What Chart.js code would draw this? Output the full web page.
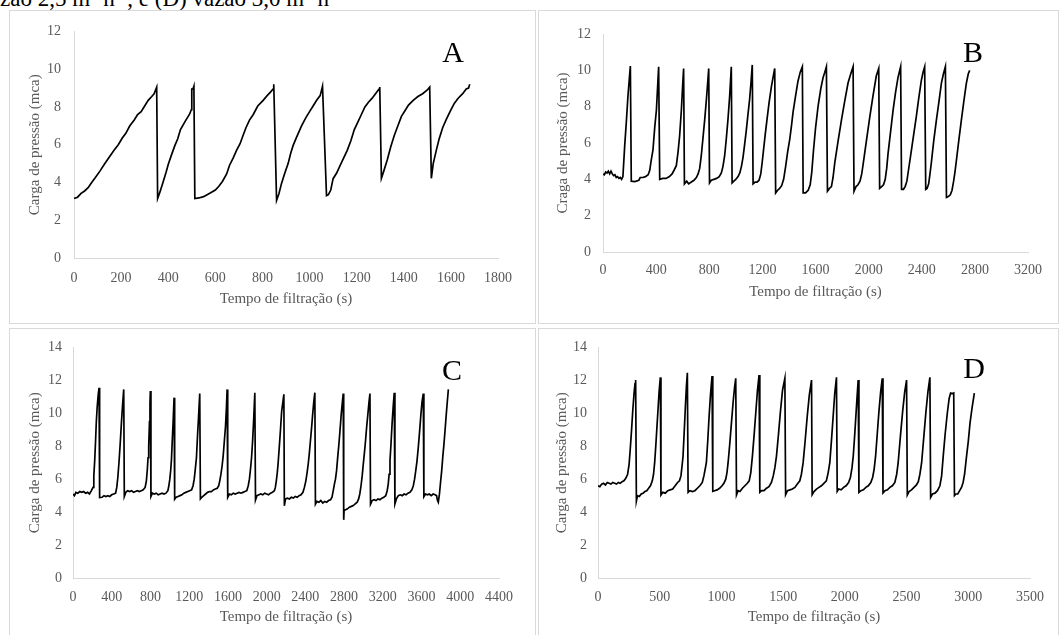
<!DOCTYPE html>
<html>
<head>
<meta charset="utf-8">
<script src="https://cdn.jsdelivr.net/npm/chart.js@4.4.1/dist/chart.umd.min.js"></script>
<style>
  body { margin: 0; background: #fff; overflow: hidden; width: 1059px; height: 635px; position: relative; }
  .panel { position: absolute; box-sizing: border-box; border: 1px solid #d9d9d9; }
  canvas { position: absolute; }
  .letter { position: absolute; font-family: "Liberation Serif", "Times New Roman", serif; font-size: 30px; color: #000; line-height: 30px; transform: translate(-50%, -50%); }
  #caption { position: absolute; left: 0; top: -13px; font-family: "Liberation Serif", "Times New Roman", serif; font-size: 23px; line-height: 23px; color: #000; white-space: nowrap; }
  #caption sup { font-size: 15px; line-height: 0; vertical-align: 8px; }
</style>
</head>
<body>
<div id="caption">zão 2,5 m<sup>3</sup> h<sup>-1</sup>, e (D) vazão 3,0 m<sup>3</sup> h<sup>-1</sup></div>

<div class="panel" style="left:9px;top:10px;width:527px;height:314px"></div>
<div class="panel" style="left:538px;top:10px;width:521px;height:314px"></div>
<div class="panel" style="left:9px;top:328px;width:527px;height:312px"></div>
<div class="panel" style="left:538px;top:328px;width:521px;height:312px"></div>

<canvas id="chartA" width="526" height="313" style="left:9px;top:10px"></canvas>
<canvas id="chartB" width="520" height="313" style="left:538px;top:10px"></canvas>
<canvas id="chartC" width="526" height="307" style="left:9px;top:328px"></canvas>
<canvas id="chartD" width="520" height="307" style="left:538px;top:328px"></canvas>

<div class="letter" style="left:453px;top:52px">A</div>
<div class="letter" style="left:973px;top:52px">B</div>
<div class="letter" style="left:452px;top:370px">C</div>
<div class="letter" style="left:974px;top:368px">D</div>

<script>
// Panel A - filtration time (s) and pressure head (mca)
const timeA = [0, 15, 30, 45, 60, 75, 90, 110, 131, 150, 170, 188, 205, 220, 237, 255, 270, 285, 300, 315, 330, 340, 351,
  355, 365, 379, 390, 400, 415, 428, 440, 452, 461, 475, 490, 498, 500, 505, 509,
  513, 530, 550, 565, 580, 600, 615, 630, 648, 660, 676, 690, 705, 718, 730, 745, 761, 780, 803, 820, 835, 845, 848,
  860, 870, 881, 895, 909, 920, 930, 945, 966, 985, 1000, 1015, 1030, 1045, 1055,
  1072, 1080, 1090, 1100, 1115, 1130, 1145, 1160, 1175, 1190, 1205, 1220, 1235, 1250, 1265, 1280, 1295, 1298,
  1305, 1315, 1330, 1345, 1360, 1375, 1390, 1405, 1420, 1440, 1460, 1480, 1500, 1510,
  1517, 1525, 1538, 1550, 1565, 1581, 1600, 1615, 1630, 1650, 1665, 1675, 1680];
const pressureA = [3.15, 3.22, 3.42, 3.55, 3.72, 4.0, 4.25, 4.6, 5.0, 5.35, 5.7, 6.0, 6.35, 6.6, 7.0, 7.3, 7.6, 7.75, 8.05, 8.35, 8.55, 8.7, 9.05,
  3.15, 3.5, 4.05, 4.5, 4.95, 5.5, 5.95, 6.3, 6.8, 7.0, 7.3, 7.6, 7.85, 8.95, 8.95, 9.1,
  3.15, 3.18, 3.25, 3.35, 3.45, 3.6, 3.8, 4.05, 4.45, 4.9, 5.3, 5.7, 6.05, 6.5, 6.9, 7.3, 7.6, 8.05, 8.35, 8.6, 8.8, 8.95, 9.2,
  3.05, 3.4, 3.95, 4.5, 5.0, 5.55, 5.95, 6.4, 7.0, 7.45, 7.75, 8.05, 8.35, 8.6, 9.1,
  3.3, 3.35, 3.6, 4.2, 4.5, 4.9, 5.3, 5.7, 6.2, 6.8, 7.2, 7.6, 8.0, 8.25, 8.45, 8.7, 8.95, 9.05,
  4.22, 4.6, 5.2, 5.9, 6.5, 7.0, 7.5, 7.8, 8.1, 8.35, 8.55, 8.7, 8.9, 9.05,
  4.22, 5.0, 5.7, 6.3, 6.9, 7.35, 7.85, 8.2, 8.45, 8.7, 8.95, 9.0, 9.2];
const xTicksA = [0, 200, 400, 600, 800, 1000, 1200, 1400, 1600, 1800];
const yTicksA = [0, 2, 4, 6, 8, 10, 12];

// Panel B
const timeB = [0, 10, 20, 30, 40, 50, 60, 70, 80, 90, 100, 110, 120, 130, 140, 150, 163, 176, 188, 201, 206,
  213, 240, 270, 280, 300, 320, 340, 352, 362, 376, 390, 402, 412, 419,
  427, 450, 475, 500, 520, 535, 552, 565, 577, 590, 600, 607,
  613, 630, 645, 665, 685, 703, 716, 728, 740, 753, 766, 778, 788, 796,
  802, 815, 835, 855, 875, 891, 903, 916, 928, 941, 953, 960, 966,
  972, 985, 1000, 1017, 1030, 1042, 1054, 1066, 1079, 1092, 1104, 1115, 1124,
  1130, 1145, 1160, 1175, 1188, 1198, 1210, 1222, 1235, 1250, 1268, 1280, 1293,
  1300, 1315, 1330, 1345, 1360, 1375, 1390, 1406, 1420, 1431, 1450, 1468, 1485, 1501,
  1507, 1525, 1545, 1560, 1572, 1585, 1600, 1619, 1640, 1657, 1670, 1682,
  1690, 1705, 1720, 1732, 1745, 1770, 1795, 1820, 1845, 1865, 1883,
  1890, 1905, 1920, 1935, 1948, 1958, 1983, 2008, 2033, 2058, 2076,
  2083, 2098, 2112, 2125, 2136, 2146, 2165, 2184, 2203, 2221, 2241,
  2248, 2262, 2275, 2288, 2300, 2322, 2340, 2359, 2378, 2397, 2410, 2422,
  2430, 2440, 2452, 2462, 2472, 2490, 2510, 2530, 2548, 2563, 2578,
  2586, 2600, 2615, 2628, 2640, 2650, 2661, 2680, 2698, 2717, 2736, 2750, 2761];
const pressureB = [4.3, 4.25, 4.4, 4.35, 4.45, 4.3, 4.45, 4.3, 4.2, 4.25, 4.1, 4.15, 4.05, 4.1, 4.0, 4.15, 5.8, 7.2, 8.6, 9.8, 10.24,
  3.9, 3.88, 3.95, 4.1, 4.1, 4.15, 4.25, 4.5, 5.0, 5.6, 6.9, 7.8, 9.2, 10.2,
  4.0, 4.05, 4.05, 4.15, 4.3, 4.5, 4.75, 5.5, 6.4, 7.8, 9.2, 10.1,
  3.75, 3.9, 3.75, 3.85, 3.95, 4.1, 4.3, 4.6, 5.3, 6.3, 7.3, 8.35, 9.3, 10.1,
  3.8, 3.95, 4.0, 4.05, 4.15, 4.35, 4.7, 5.3, 6.2, 7.3, 8.5, 9.4, 10.2,
  3.8, 3.9, 4.0, 4.15, 4.35, 4.7, 5.2, 5.9, 6.7, 7.6, 8.4, 9.4, 10.3,
  3.75, 3.85, 3.85, 3.95, 4.3, 4.9, 5.7, 6.5, 7.3, 8.2, 9.1, 9.6, 10.1,
  3.25, 3.4, 3.5, 3.65, 4.0, 4.7, 5.5, 6.2, 7.0, 7.7, 8.6, 9.4, 9.9, 10.2,
  3.25, 3.25, 3.4, 3.7, 4.4, 5.6, 6.8, 8.0, 9.0, 9.6, 9.9, 10.2,
  3.35, 3.5, 3.6, 4.1, 4.9, 6.1, 7.25, 8.3, 9.3, 9.8, 10.2,
  3.35, 3.6, 3.7, 3.9, 4.3, 4.8, 6.1, 7.4, 8.6, 9.7, 10.1,
  3.5, 3.6, 3.7, 4.0, 4.6, 5.4, 6.6, 7.8, 8.8, 9.6, 10.2,
  3.45, 3.45, 3.6, 3.9, 4.5, 5.6, 6.5, 7.45, 8.5, 9.45, 9.9, 10.2,
  3.45, 3.5, 3.75, 4.3, 4.9, 6.1, 7.25, 8.3, 9.3, 9.8, 10.2,
  3.0, 3.05, 3.15, 3.4, 3.9, 4.4, 5.05, 6.2, 7.25, 8.3, 9.3, 9.8, 10.0];
const xTicksB = [0, 400, 800, 1200, 1600, 2000, 2400, 2800, 3200];
const yTicksB = [0, 2, 4, 6, 8, 10, 12];

// Panel C
const timeC = [0, 15, 30, 50, 70, 90, 110, 130, 150, 170, 190, 207, 215, 224, 233, 241, 250, 260, 269,
  275, 300, 320, 340, 360, 380, 400, 420, 440, 452, 463, 476, 488, 500, 512, 524,
  530, 545, 565, 585, 605, 625, 645, 665, 685, 705, 725, 745, 758, 768, 775, 782, 790, 795, 799,
  805, 820, 840, 860, 880, 900, 920, 940, 960, 980, 990, 1000, 1010, 1017, 1025, 1035, 1044,
  1050, 1065, 1085, 1105, 1125, 1145, 1165, 1185, 1205, 1225, 1240, 1252, 1263, 1275, 1285, 1297, 1309,
  1316, 1330, 1350, 1370, 1390, 1410, 1430, 1450, 1470, 1490, 1505, 1516, 1528, 1540, 1551, 1563, 1575, 1585, 1592,
  1598, 1615, 1635, 1655, 1675, 1695, 1715, 1735, 1755, 1775, 1795, 1810, 1822, 1833, 1844, 1855, 1866, 1878,
  1885, 1900, 1920, 1940, 1960, 1980, 2000, 2020, 2040, 2060, 2080, 2090, 2100, 2110, 2119, 2130, 2143, 2155, 2168, 2178,
  2183, 2195, 2215, 2235, 2255, 2275, 2295, 2315, 2335, 2355, 2375, 2390, 2405, 2418, 2429, 2440, 2452, 2464, 2475, 2487, 2498,
  2504, 2520, 2540, 2560, 2580, 2600, 2620, 2640, 2660, 2675, 2688, 2700, 2711, 2722, 2735, 2746, 2757, 2770, 2781, 2791,
  2796, 2800, 2815, 2835, 2855, 2875, 2895, 2915, 2935, 2950, 2962, 2975, 2987, 2998, 3010, 3021, 3032, 3045, 3056, 3067,
  3073, 3090, 3110, 3130, 3150, 3170, 3190, 3210, 3230, 3245, 3256, 3265, 3274, 3285, 3296, 3307, 3318,
  3325, 3340, 3360, 3380, 3400, 3420, 3440, 3460, 3480, 3500, 3515, 3528, 3540, 3553, 3566, 3580, 3593, 3605, 3618,
  3624, 3640, 3660, 3680, 3700, 3720, 3740, 3755, 3765, 3773, 3785, 3796, 3808, 3820, 3831, 3842, 3855, 3866, 3877];
const pressureC = [5.1, 5.0, 5.2, 5.15, 5.25, 5.2, 5.25, 5.15, 5.2, 5.1, 5.3, 5.5, 6.2, 7.1, 8.3, 9.5, 10.4, 11.1, 11.55,
  4.88, 4.9, 5.0, 4.95, 5.0, 4.95, 5.05, 5.1, 5.15, 5.5, 6.1, 7.1, 8.2, 9.4, 10.5, 11.45,
  4.95, 5.2, 5.3, 5.25, 5.3, 5.2, 5.25, 5.3, 5.25, 5.3, 5.35, 5.5, 5.9, 6.6, 7.3, 8.0, 9.5, 10.6, 11.35,
  4.95, 5.15, 5.1, 5.15, 5.05, 5.1, 5.15, 5.1, 5.15, 5.3, 5.6, 6.0, 6.6, 7.2, 8.3, 9.6, 10.95,
  4.78, 4.9, 4.95, 5.0, 5.05, 5.15, 5.2, 5.25, 5.3, 5.35, 5.6, 6.0, 6.6, 7.3, 8.5, 9.8, 11.2,
  4.8, 4.9, 5.0, 5.1, 5.2, 5.25, 5.25, 5.35, 5.4, 5.45, 5.6, 5.9, 6.3, 6.8, 7.4, 8.3, 9.2, 10.4, 11.45,
  4.9, 5.1, 5.05, 5.15, 5.1, 5.15, 5.2, 5.15, 5.2, 5.25, 5.3, 5.6, 6.0, 6.6, 7.3, 8.3, 9.6, 11.25,
  4.74, 5.0, 5.05, 5.1, 5.05, 5.15, 5.1, 5.05, 5.15, 5.2, 5.3, 5.5, 5.9, 6.4, 7.0, 7.9, 9.0, 10.1, 10.7, 11.15,
  4.38, 4.8, 4.85, 4.8, 4.9, 4.85, 4.95, 4.9, 5.0, 5.05, 5.2, 5.5, 5.9, 6.4, 6.9, 7.5, 8.3, 9.1, 9.9, 10.7, 11.25,
  4.48, 4.65, 4.6, 4.7, 4.55, 4.65, 4.6, 4.7, 4.75, 4.9, 5.3, 5.7, 6.0, 6.5, 7.4, 8.1, 8.9, 9.9, 10.6, 11.2,
  3.53, 4.1, 4.15, 4.2, 4.3, 4.35, 4.4, 4.5, 4.6, 4.8, 5.1, 5.6, 6.2, 6.9, 7.6, 8.3, 9.1, 9.9, 10.6, 11.2,
  4.48, 4.7, 4.75, 4.7, 4.8, 4.75, 4.85, 4.9, 5.0, 5.3, 5.7, 6.3, 7.1, 8.2, 9.4, 10.4, 11.25,
  4.5, 4.8, 5.0, 5.05, 5.0, 5.1, 5.05, 5.15, 5.2, 5.35, 5.6, 6.0, 6.5, 7.1, 7.9, 8.9, 9.9, 10.7, 11.2,
  4.94, 5.1, 5.05, 5.1, 5.0, 5.1, 5.05, 5.0, 4.7, 4.6, 5.1, 5.8, 6.5, 7.4, 8.1, 8.9, 9.9, 10.7, 11.45];
const xTicksC = [0, 400, 800, 1200, 1600, 2000, 2400, 2800, 3200, 3600, 4000, 4400];
const yTicksC = [0, 2, 4, 6, 8, 10, 12, 14];

// Panel D
const timeD = [0, 15, 30, 45, 60, 75, 90, 105, 120, 135, 150, 165, 180, 195, 210, 225, 240, 252, 262, 272, 282, 292, 300, 305,
  311, 320, 335, 350, 365, 380, 395, 410, 425, 440, 450, 459, 468, 477, 486, 495, 505,
  510, 525, 545, 565, 585, 605, 625, 645, 660, 672, 681, 689, 698, 708, 716, 724,
  730, 745, 765, 785, 805, 825, 845, 858, 868, 878, 889, 900, 912, 924,
  930, 945, 965, 985, 1005, 1020, 1035, 1045, 1054, 1067, 1081, 1095, 1107, 1116,
  1122, 1135, 1150, 1170, 1190, 1210, 1225, 1238, 1251, 1264, 1278, 1292, 1305,
  1311, 1325, 1345, 1365, 1385, 1405, 1420, 1433, 1446, 1462, 1478, 1495, 1514,
  1520, 1535, 1555, 1575, 1595, 1615, 1635, 1648, 1662, 1678, 1695, 1712, 1730,
  1735, 1750, 1770, 1790, 1810, 1830, 1850, 1865, 1878, 1892, 1905, 1918, 1932,
  1938, 1950, 1970, 1990, 2010, 2030, 2045, 2058, 2068, 2079, 2089, 2099, 2108,
  2114, 2130, 2150, 2170, 2190, 2210, 2225, 2237, 2249, 2262, 2276, 2290, 2303,
  2309, 2325, 2345, 2365, 2385, 2405, 2420, 2432, 2450, 2468, 2485, 2500,
  2506, 2520, 2540, 2560, 2580, 2595, 2608, 2622, 2640, 2657, 2673, 2689,
  2695, 2710, 2730, 2750, 2770, 2784, 2797, 2812, 2830, 2845, 2857, 2870, 2882,
  2888, 2900, 2915, 2930, 2945, 2958, 2970, 2986, 3000, 3014, 3030, 3049];
const pressureD = [5.6, 5.55, 5.7, 5.75, 5.65, 5.8, 5.75, 5.7, 5.8, 5.75, 5.7, 5.8, 5.75, 5.85, 5.9, 6.05, 6.3, 6.9, 7.9, 9.0, 10.2, 11.2, 11.8, 12.02,
  4.67, 5.0, 4.95, 5.1, 5.15, 5.25, 5.3, 5.45, 5.6, 5.9, 6.3, 7.0, 8.0, 9.1, 10.2, 11.3, 12.18,
  5.04, 5.2, 5.15, 5.3, 5.35, 5.4, 5.6, 5.8, 5.9, 6.2, 6.8, 7.4, 8.8, 10.4, 11.6, 12.46,
  5.2, 5.3, 5.25, 5.3, 5.45, 5.6, 5.8, 6.2, 6.6, 7.0, 8.3, 9.8, 11.2, 12.26,
  5.26, 5.3, 5.35, 5.45, 5.6, 5.75, 6.0, 6.4, 7.0, 8.1, 9.4, 10.7, 11.6, 12.12,
  5.04, 5.3, 5.25, 5.45, 5.6, 5.75, 5.9, 6.4, 7.4, 8.6, 10.0, 11.4, 12.32,
  5.2, 5.3, 5.3, 5.45, 5.55, 5.8, 6.2, 6.7, 7.4, 8.7, 10.1, 11.4, 12.12,
  5.06, 5.3, 5.35, 5.4, 5.5, 5.7, 5.9, 6.3, 7.0, 8.3, 9.8, 11.1, 12.02,
  5.06, 5.25, 5.4, 5.5, 5.6, 5.75, 5.9, 6.4, 7.0, 8.4, 9.8, 11.2, 12.18,
  5.26, 5.4, 5.35, 5.5, 5.6, 5.8, 6.1, 6.7, 7.4, 8.6, 9.8, 11.0, 12.02,
  5.2, 5.3, 5.35, 5.5, 5.6, 5.8, 6.1, 6.6, 7.4, 8.7, 10.1, 11.3, 12.12,
  5.16, 5.3, 5.35, 5.5, 5.6, 5.8, 6.3, 7.0, 8.6, 10.1, 11.3, 12.02,
  5.04, 5.25, 5.35, 5.5, 5.65, 5.85, 6.3, 7.0, 8.6, 10.1, 11.3, 12.18,
  4.9, 5.1, 5.15, 5.3, 5.6, 6.2, 7.4, 8.7, 10.0, 10.9, 11.23, 11.2, 11.23,
  5.0, 5.1, 5.1, 5.3, 5.5, 5.8, 6.3, 7.4, 8.3, 9.4, 10.3, 11.23];
const xTicksD = [0, 500, 1000, 1500, 2000, 2500, 3000, 3500];
const yTicksD = [0, 2, 4, 6, 8, 10, 12, 14];

const serif = '"Liberation Serif", "Times New Roman", serif';
const labelGrey = '#595959';
const axisGrey = '#d9d9d9';

// layout numbers for each panel (canvas coordinates)
const layoutA = { left: 65, top: 16, right: 37, xH: 65, yPad: 13, yTitle: 17, xPad: 11.6, xTitle: 15 };
const layoutB = { left: 65, top: 24, right: 30, xH: 71, yPad: 12, yTitle: 16, xPad: 9.6, xTitle: 22 };
const layoutC = { left: 64, top: 16, right: 36, xH: 57, yPad: 11, yTitle: 17, xPad: 10.6, xTitle: 9 };
const layoutD = { left: 60, top: 14, right: 28, xH: 57, yPad: 11, yTitle: 15, xPad: 10.6, xTitle: 9 };

function makeChart(id, times, pressures, xTicks, yTicks, yLabel, lay) {
  const points = times.map((t, i) => ({ x: t, y: pressures[i] }));
  const ctx = document.getElementById(id).getContext('2d');
  return new Chart(ctx, {
    type: 'line',
    data: {
      datasets: [{
        data: points,
        borderColor: '#000',
        borderWidth: 1.7,
        pointRadius: 0,
        tension: 0,
        fill: false
      }]
    },
    options: {
      responsive: false,
      animation: false,
      devicePixelRatio: 1,
      layout: { padding: { left: 0, top: lay.top, right: lay.right, bottom: 0 } },
      plugins: { legend: { display: false }, tooltip: { enabled: false } },
      scales: {
        x: {
          type: 'linear',
          min: xTicks[0],
          max: xTicks[xTicks.length - 1],
          afterBuildTicks: s => { s.ticks = xTicks.map(v => ({ value: v })); },
          afterFit: s => { s.height = lay.xH; },
          grid: { display: false, drawTicks: false },
          border: { display: true, color: axisGrey, width: 1 },
          ticks: {
            padding: lay.xPad,
            maxRotation: 0,
            autoSkip: false,
            color: labelGrey,
            font: { family: serif, size: 14 },
            callback: v => String(v)
          },
          title: {
            display: true,
            text: 'Tempo de filtração (s)',
            color: labelGrey,
            font: { family: serif, size: 15 },
            padding: { top: 0, bottom: lay.xTitle }
          }
        },
        y: {
          min: yTicks[0],
          max: yTicks[yTicks.length - 1],
          afterBuildTicks: s => { s.ticks = yTicks.map(v => ({ value: v })); },
          afterFit: s => { s.width = lay.left; },
          grid: { display: false, drawTicks: false },
          border: { display: true, color: axisGrey, width: 1 },
          ticks: {
            padding: lay.yPad,
            color: labelGrey,
            font: { family: serif, size: 14 },
            callback: v => String(v)
          },
          title: {
            display: true,
            text: yLabel,
            color: labelGrey,
            font: { family: serif, size: 15 },
            padding: { top: lay.yTitle, bottom: 0 }
          }
        }
      }
    }
  });
}

document.addEventListener('DOMContentLoaded', () => {
  makeChart('chartA', timeA, pressureA, xTicksA, yTicksA, 'Carga de pressão (mca)', layoutA);
  makeChart('chartB', timeB, pressureB, xTicksB, yTicksB, 'Craga de pressão (mca)', layoutB);
  makeChart('chartC', timeC, pressureC, xTicksC, yTicksC, 'Carga de pressão (mca)', layoutC);
  makeChart('chartD', timeD, pressureD, xTicksD, yTicksD, 'Carga de pressão (mca)', layoutD);
});
</script>
</body>
</html>
